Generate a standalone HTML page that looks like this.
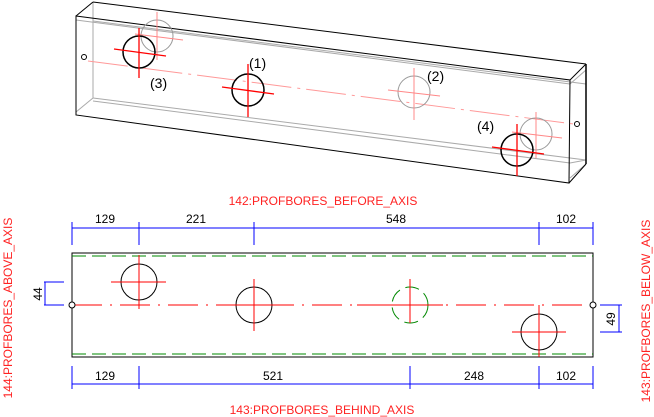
<!DOCTYPE html>
<html><head><meta charset="utf-8"><style>
html,body{margin:0;padding:0;background:#fff;}
svg{display:block;font-family:"Liberation Sans",Arial,sans-serif;}
</style></head><body>
<svg width="654" height="417" viewBox="0 0 654 417" xmlns="http://www.w3.org/2000/svg">
<g fill="none" stroke-width="1">
  <g stroke="#aaa">
    <line x1="93" y1="2" x2="93" y2="98"/>
    <line x1="76" y1="20" x2="570" y2="84"/>
    <line x1="93" y1="21" x2="586" y2="84"/>
    <line x1="93" y1="98" x2="586" y2="160"/>
    <line x1="76" y1="112" x2="93" y2="98"/>
    <line x1="93" y1="101" x2="570" y2="163"/>
    <line x1="570" y1="163" x2="586" y2="160"/>
    <line x1="570" y1="84" x2="586" y2="70"/>
    <line x1="570" y1="178" x2="586" y2="164"/>
  </g>
  <g stroke="#000">
    <polygon points="76,16 570,80 569,183 76,115"/>
    <line x1="76" y1="16" x2="93" y2="2"/>
    <line x1="93" y1="2" x2="586" y2="64"/>
    <line x1="570" y1="80" x2="586" y2="64"/>
    <line x1="586" y1="64" x2="586" y2="164" stroke-width="1.5"/>
    <line x1="586" y1="164" x2="569" y2="183"/>
  </g>
  <line x1="88" y1="61" x2="574" y2="124" stroke="#f99" stroke-dasharray="40,6,3,6"/>
  <circle cx="84" cy="57" r="2.5" stroke="#000"/>
  <circle cx="577" cy="124" r="2.5" stroke="#000"/>
  <g stroke="#999">
    <circle cx="157" cy="36" r="16"/>
    <circle cx="414" cy="92" r="16"/>
    <circle cx="536" cy="134" r="16"/>
  </g>
  <g stroke="#f88">
    <line x1="157" y1="12" x2="157" y2="60"/><line x1="135" y1="34" x2="183" y2="40"/>
    <line x1="414" y1="68" x2="414" y2="120"/><line x1="388" y1="90" x2="440" y2="96"/>
    <line x1="536" y1="112" x2="536" y2="158"/><line x1="512" y1="132" x2="562" y2="138"/>
  </g>
  <g stroke="#000" stroke-width="1.5">
    <circle cx="139" cy="52" r="16"/>
    <circle cx="248" cy="90" r="16"/>
    <circle cx="517" cy="150" r="16"/>
  </g>
  <g stroke="#f00" stroke-width="1.3">
    <line x1="139" y1="28" x2="139" y2="78"/><line x1="114" y1="49" x2="166" y2="56"/>
    <line x1="248" y1="64" x2="248" y2="117"/><line x1="222" y1="87" x2="274" y2="94"/>
    <line x1="517" y1="124" x2="517" y2="176"/><line x1="492" y1="147" x2="544" y2="154"/>
  </g>
</g>
<g font-size="14" fill="#000">
  <text x="150" y="88">(3)</text>
  <text x="249" y="68">(1)</text>
  <text x="427" y="81">(2)</text>
  <text x="477" y="131">(4)</text>
</g>
<g font-size="12" fill="#f22">
  <text x="323" y="205" text-anchor="middle">142:PROFBORES_BEFORE_AXIS</text>
  <text x="322" y="414" text-anchor="middle">143:PROFBORES_BEHIND_AXIS</text>
  <text transform="translate(12,308) rotate(-90)" text-anchor="middle">144:PROFBORES_ABOVE_AXIS</text>
  <text transform="translate(650,311) rotate(-90)" text-anchor="middle">143:PROFBORES_BELOW_AXIS</text>
</g>
<g fill="none">
  <rect x="72" y="253" width="521" height="104" stroke="#000"/>
  <line x1="72" y1="256" x2="593" y2="256" stroke="#080" stroke-dasharray="14,6"/>
  <line x1="72" y1="354" x2="593" y2="354" stroke="#080" stroke-dasharray="14,6"/>
  <line x1="72" y1="305" x2="593" y2="305" stroke="#f00" stroke-dasharray="30,8,2,8"/>
  <circle cx="72" cy="305" r="3" stroke="#000" fill="#fff"/>
  <circle cx="593" cy="305" r="3" stroke="#000" fill="#fff"/>
  <g stroke="#000">
    <circle cx="139" cy="282" r="18"/>
    <circle cx="254" cy="305" r="18"/>
    <circle cx="539" cy="332" r="18"/>
  </g>
  <circle cx="410" cy="305" r="18" stroke="#080" stroke-dasharray="14,6"/>
  <g stroke="#f00">
    <line x1="111" y1="282" x2="166" y2="282"/><line x1="139" y1="255" x2="139" y2="309"/>
    <line x1="227" y1="305" x2="282" y2="305"/><line x1="254" y1="279" x2="254" y2="331"/>
    <line x1="357" y1="305" x2="443" y2="305"/><line x1="410" y1="279" x2="410" y2="323"/>
    <line x1="512" y1="332" x2="566" y2="332"/><line x1="539" y1="305" x2="539" y2="357"/>
  </g>
  <g stroke="#00f">
    <line x1="72" y1="228" x2="593" y2="228"/>
    <line x1="72" y1="222" x2="72" y2="245"/><line x1="139" y1="222" x2="139" y2="245"/>
    <line x1="254" y1="222" x2="254" y2="245"/><line x1="539" y1="222" x2="539" y2="245"/>
    <line x1="593" y1="222" x2="593" y2="245"/>
    <line x1="72" y1="384" x2="593" y2="384"/>
    <line x1="72" y1="366" x2="72" y2="389"/><line x1="139" y1="366" x2="139" y2="389"/>
    <line x1="410" y1="366" x2="410" y2="389"/><line x1="539" y1="366" x2="539" y2="389"/>
    <line x1="593" y1="366" x2="593" y2="389"/>
    <line x1="45" y1="282" x2="45" y2="305"/>
    <line x1="44" y1="282" x2="64" y2="282"/><line x1="44" y1="305" x2="64" y2="305"/>
    <line x1="619" y1="305" x2="619" y2="332"/>
    <line x1="600" y1="305" x2="622" y2="305"/><line x1="600" y1="332" x2="622" y2="332"/>
  </g>
</g>
<g font-size="12" fill="#000" text-anchor="middle">
  <text x="105" y="223">129</text>
  <text x="196" y="223">221</text>
  <text x="396" y="223">548</text>
  <text x="566" y="223">102</text>
  <text x="105" y="380">129</text>
  <text x="273" y="380">521</text>
  <text x="474" y="380">248</text>
  <text x="566" y="380">102</text>
  <text transform="translate(42,294) rotate(-90)">44</text>
  <text transform="translate(615,319) rotate(-90)">49</text>
</g>
</svg>
</body></html>
